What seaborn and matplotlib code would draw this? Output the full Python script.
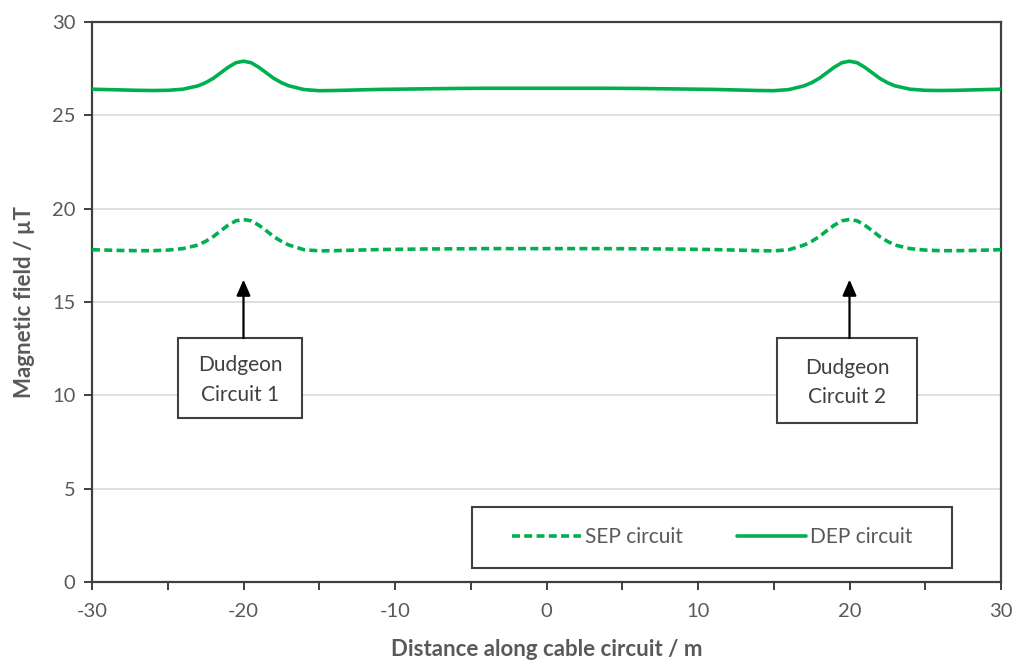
import numpy as np
import pandas as pd
import matplotlib
matplotlib.use("Agg")
import matplotlib.pyplot as plt
from matplotlib.patches import Rectangle
import seaborn as sns

# distance along the cable circuit (m)
distance = [-30, -29, -28, -27, -26, -25, -24, -23, -22.5, -22, -21.5, -21, -20.5, -20,
            -19.5, -19, -18.5, -18, -17.5, -17, -16, -15, -14, -13, -12, -11, -10, -8, -6,
            -4, -2, 0, 2, 4, 6, 8, 10, 11, 12, 13, 14, 15, 16, 17, 17.5, 18, 18.5, 19, 19.5,
            20, 20.5, 21, 21.5, 22, 22.5, 23, 24, 25, 26, 27, 28, 29, 30]

# double end point bonded circuit (uT)
dep_field = [26.40, 26.38, 26.36, 26.34, 26.33, 26.34, 26.40, 26.58, 26.75, 26.98, 27.28,
             27.58, 27.82, 27.90, 27.82, 27.58, 27.28, 26.98, 26.75, 26.58, 26.38, 26.32,
             26.33, 26.35, 26.37, 26.39, 26.40, 26.42, 26.44, 26.45, 26.45, 26.45, 26.45,
             26.45, 26.44, 26.42, 26.40, 26.39, 26.37, 26.35, 26.33, 26.32, 26.38, 26.58,
             26.75, 26.98, 27.28, 27.58, 27.82, 27.90, 27.82, 27.58, 27.28, 26.98, 26.75,
             26.58, 26.40, 26.34, 26.33, 26.34, 26.36, 26.38, 26.40]

# single end point bonded circuit (uT)
sep_field = [17.80, 17.78, 17.76, 17.75, 17.75, 17.78, 17.86, 18.05, 18.25, 18.50, 18.82,
             19.12, 19.35, 19.42, 19.35, 19.12, 18.82, 18.50, 18.25, 18.05, 17.80, 17.74,
             17.75, 17.77, 17.79, 17.81, 17.82, 17.84, 17.85, 17.86, 17.86, 17.86, 17.86,
             17.86, 17.85, 17.84, 17.82, 17.81, 17.79, 17.77, 17.75, 17.74, 17.80, 18.05,
             18.25, 18.50, 18.82, 19.12, 19.35, 19.42, 19.35, 19.12, 18.82, 18.50, 18.25,
             18.05, 17.86, 17.78, 17.75, 17.75, 17.76, 17.78, 17.80]

circuit_names = ["Dudgeon\nCircuit 1", "Dudgeon\nCircuit 2"]
circuit_pos = [-20, 20]

df = pd.DataFrame({"x": distance, "SEP circuit": sep_field, "DEP circuit": dep_field})
long_df = df.melt(id_vars="x", var_name="series", value_name="field")

sns.set_theme(style="white")
plt.rcParams["font.family"] = ["Lato", "DejaVu Sans"]
plt.rcParams["axes.unicode_minus"] = False

green = "#00B050"
grey_txt = "#595959"
dark = "#404040"

fig = plt.figure(figsize=(10.2, 6.64), dpi=100)
ax = fig.add_axes([92 / 1020, 82 / 664, 909 / 1020, 560 / 664])

sns.lineplot(data=long_df, x="x", y="field", style="series",
             style_order=["SEP circuit", "DEP circuit"],
             dashes={"SEP circuit": (2.2, 1.2), "DEP circuit": ""},
             color=green, linewidth=2.6, ax=ax, zorder=3)

ax.set_xlim(-30, 30)
ax.set_ylim(0, 30)
ax.set_xticks(np.arange(-30, 31, 10))
ax.set_xticks(np.arange(-30, 31, 5), minor=True)
ax.set_yticks(np.arange(0, 31, 5))
ax.yaxis.grid(True, color="#D9D9D9", linewidth=1.2)
ax.set_axisbelow(True)

for s in ax.spines.values():
    s.set_color(dark)
    s.set_linewidth(1.6)

ax.tick_params(axis="both", which="both", direction="out", color=dark, width=1.4,
               labelcolor=grey_txt, labelsize=14.5)
ax.tick_params(axis="x", which="both", length=6, pad=9, bottom=True)
ax.tick_params(axis="y", length=6, pad=6, left=True)

ax.set_xlabel("Distance along cable circuit / m", fontsize=16, fontweight="bold",
              color=grey_txt, labelpad=14)
ax.set_ylabel("Magnetic field / µT", fontsize=16, fontweight="bold", color=grey_txt,
              labelpad=12)

# labelled boxes with arrows pointing at the peaks
box_x = [(-24.32, -16.14), (15.21, 24.46)]
box_y = [(8.78, 13.07), (8.52, 13.07)]
for name, pos, bx, by in zip(circuit_names, circuit_pos, box_x, box_y):
    ax.add_patch(Rectangle((bx[0], by[0]), bx[1] - bx[0], by[1] - by[0], facecolor="white",
                           edgecolor=dark, linewidth=1.5, zorder=4))
    ax.text((bx[0] + bx[1]) / 2, (by[0] + by[1]) / 2 - 0.1, name, ha="center", va="center",
            fontsize=15, color="#404040", linespacing=1.6, zorder=5)
    ax.annotate("", xy=(pos, 16.2), xytext=(pos, by[1]),
                arrowprops=dict(arrowstyle="-|>,head_length=0.8,head_width=0.35",
                                color="black", linewidth=1.6, shrinkA=0, shrinkB=0),
                zorder=5)

# legend frame drawn separately so it can be wider than the entries
ax.add_patch(Rectangle((0.418, 0.025), 0.528, 0.109, transform=ax.transAxes,
                       facecolor="white", edgecolor=dark, linewidth=1.5, zorder=4))
leg = ax.legend(loc="center", bbox_to_anchor=(0.418 + 0.264, 0.025 + 0.0545), ncol=2,
                frameon=False, fontsize=15, handlelength=3.3, columnspacing=2.6,
                handletextpad=0.2)
leg.set_zorder(5)
for t in leg.get_texts():
    t.set_color(grey_txt)
for h in leg.get_lines():
    h.set_color(green)
    h.set_linewidth(2.6)

fig.savefig("out.png", dpi=100)
